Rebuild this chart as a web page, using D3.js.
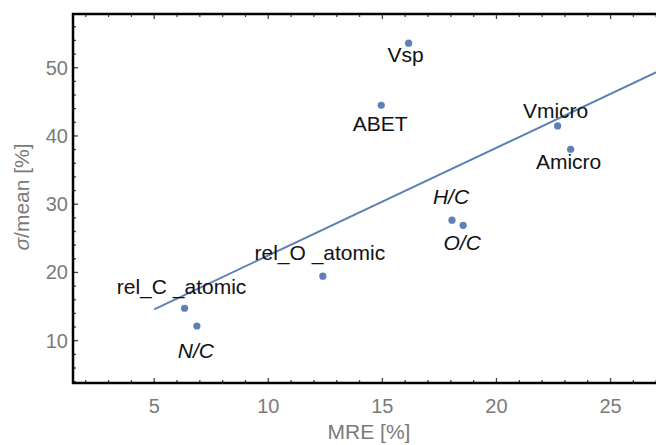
<!DOCTYPE html>
<html>
<head>
<meta charset="utf-8">
<script src="https://cdn.jsdelivr.net/npm/d3@7"></script>
<style>
  html, body { margin: 0; padding: 0; background: #fff; }
  svg { display: block; }
  text { font-family: "Liberation Sans", Arial, sans-serif; }
</style>
</head>
<body>
<svg id="chart" width="656" height="445"></svg>
<script>
// ---- data ----
const names  = ["Vsp", "ABET", "Vmicro", "Amicro", "H/C", "O/C", "rel_O _atomic", "rel_C _atomic", "N/C"];
const mre    = [16.15, 14.95, 22.68, 23.25, 18.05, 18.54, 12.39, 6.33, 6.87];
const sigma  = [53.6, 44.5, 41.47, 38.05, 27.66, 26.9, 19.46, 14.75, 12.15];
const italicNames = ["H/C", "O/C", "N/C"];
const fitX = [5, 28];
const fitY = [14.6, 50.9];
const xTicks = [5, 10, 15, 20, 25];
const yTicks = [10, 20, 30, 40, 50];

// ---- layout (label placement offsets, px) ----
const labelOffset = {
  "Vsp": [-3, 19], "ABET": [-1, 26], "Vmicro": [-2, -8], "Amicro": [-2, 20],
  "H/C": [-1, -16], "O/C": [-1, 25], "rel_O _atomic": [-3, -16],
  "rel_C _atomic": [-3, -14], "N/C": [-1, 32]
};

const svg = d3.select("#chart");
const pLeft = 73, pTop = 14, pBottom = 383, pRight = 679;
const x = d3.scaleLinear().domain([1.44, 28.0]).range([pLeft, pRight]);
const y = d3.scaleLinear().domain([3.8, 57.87]).range([pBottom, pTop]);

const pointColor = "#5E81B5";
const tickColor = "#7a7a7a";

// clip
svg.append("defs").append("clipPath").attr("id", "clip")
  .append("rect").attr("x", pLeft).attr("y", pTop).attr("width", pRight - pLeft).attr("height", pBottom - pTop);

// minor / major ticks (inward)
const g = svg.append("g");
const xMinor = d3.range(2, 28, 1);
const yMinor = d3.range(4, 58, 2);
g.selectAll(".xb").data(xMinor).join("line")
  .attr("x1", d => x(d)).attr("x2", d => x(d))
  .attr("y1", pBottom).attr("y2", d => pBottom - (xTicks.includes(d) ? 5 : 3))
  .attr("stroke", "#444").attr("stroke-width", 1.3);
g.selectAll(".xt").data(xMinor).join("line")
  .attr("x1", d => x(d)).attr("x2", d => x(d))
  .attr("y1", pTop).attr("y2", d => pTop + (xTicks.includes(d) ? 5 : 3))
  .attr("stroke", "#444").attr("stroke-width", 1.3);
g.selectAll(".yl").data(yMinor).join("line")
  .attr("y1", d => y(d)).attr("y2", d => y(d))
  .attr("x1", pLeft).attr("x2", d => pLeft + (yTicks.includes(d) ? 5 : 3))
  .attr("stroke", "#444").attr("stroke-width", 1.3);

// frame
svg.append("path")
  .attr("d", `M${pRight + 5},${pTop} H${pLeft} V${pBottom} H${pRight + 5}`)
  .attr("fill", "none").attr("stroke", "#000").attr("stroke-width", 2.5);

// tick labels
svg.selectAll(".xl").data(xTicks).join("text")
  .attr("x", d => x(d)).attr("y", 413)
  .attr("text-anchor", "middle").attr("fill", tickColor)
  .attr("font-size", 20).text(d => d);
svg.selectAll(".ylab").data(yTicks).join("text")
  .attr("x", 68).attr("y", d => y(d)).attr("dy", "0.35em")
  .attr("text-anchor", "end").attr("fill", tickColor)
  .attr("font-size", 20).text(d => d);

// axis titles
svg.append("text").attr("x", 369).attr("y", 439)
  .attr("text-anchor", "middle").attr("fill", tickColor).attr("font-size", 21)
  .text("MRE [%]");
const yt = svg.append("text")
  .attr("transform", "translate(29,197) rotate(-90)")
  .attr("text-anchor", "middle").attr("fill", tickColor).attr("font-size", 21);
yt.append("tspan").attr("font-style", "italic").text("σ");
yt.append("tspan").text("/mean [%]");

// fit line
const plot = svg.append("g").attr("clip-path", "url(#clip)");
plot.append("line")
  .attr("x1", x(fitX[0])).attr("y1", y(fitY[0]))
  .attr("x2", x(fitX[1])).attr("y2", y(fitY[1]))
  .attr("stroke", pointColor).attr("stroke-width", 2);

// points
const pts = names.map((n, i) => ({ name: n, x: mre[i], y: sigma[i] }));
plot.selectAll("circle").data(pts).join("circle")
  .attr("cx", d => x(d.x)).attr("cy", d => y(d.y)).attr("r", 3.6)
  .attr("fill", pointColor);

// labels
svg.selectAll(".lbl").data(pts).join("text")
  .attr("x", d => x(d.x) + labelOffset[d.name][0])
  .attr("y", d => y(d.y) + labelOffset[d.name][1])
  .attr("text-anchor", "middle").attr("font-size", 21).attr("fill", "#111")
  .attr("font-style", d => italicNames.includes(d.name) ? "italic" : "normal")
  .text(d => d.name);
</script>
</body>
</html>
